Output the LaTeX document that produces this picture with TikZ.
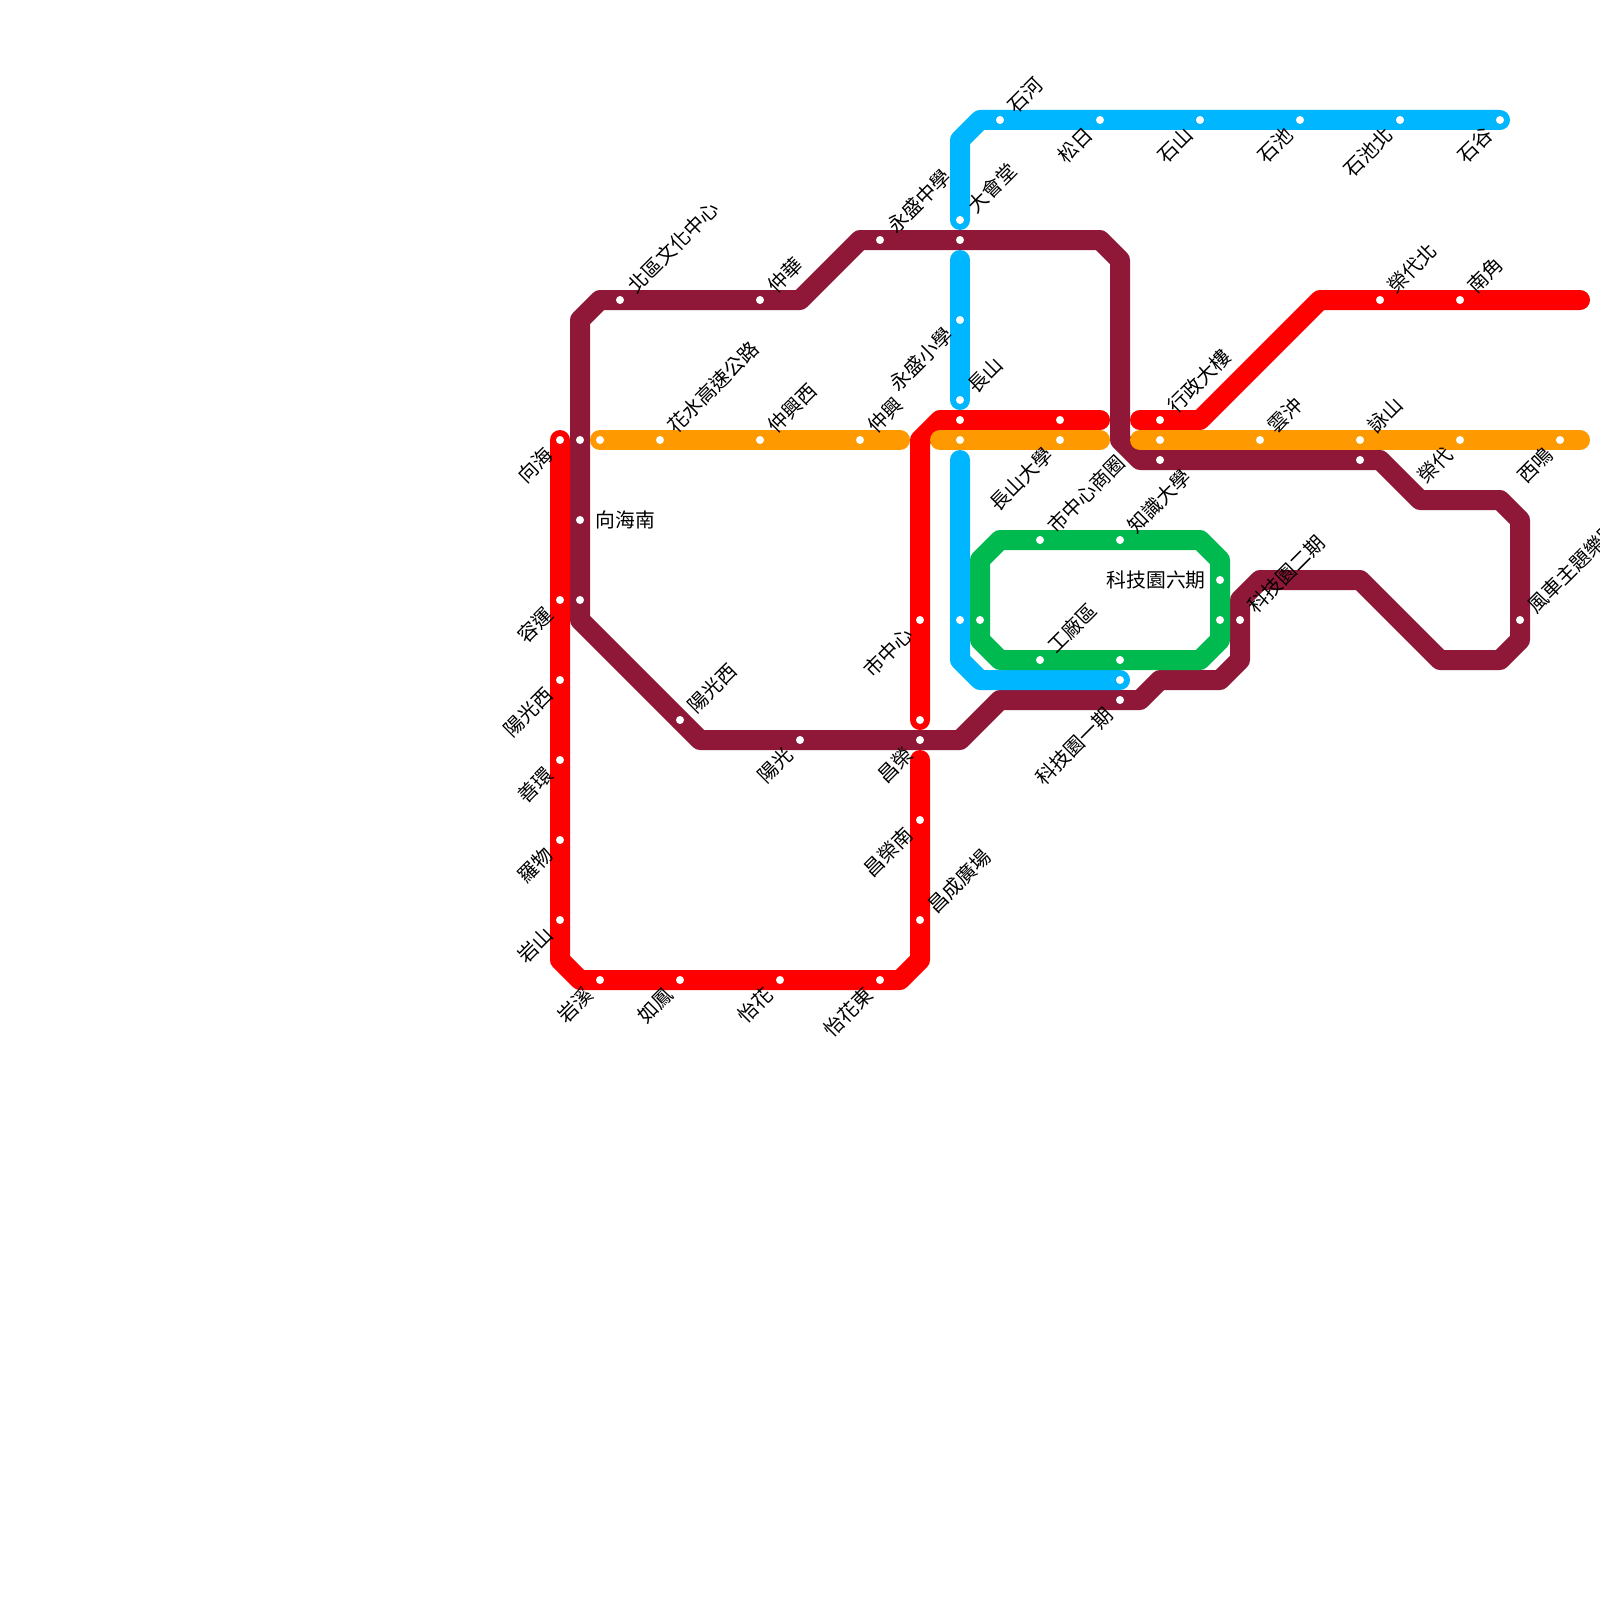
\documentclass[tikz,border=0pt]{standalone}
\usepackage{fontspec}
\setmainfont{Noto Sans CJK TC}
\definecolor{mroon}{HTML}{8F1838}
\definecolor{rline}{HTML}{FF0000}
\definecolor{oline}{HTML}{FF9900}
\definecolor{bline}{HTML}{00B7FF}
\definecolor{gline}{HTML}{00B94F}
\tikzset{
  route/.style={line width=10pt,line join=round,line cap=round},
  stdot/.style={circle,fill=white,draw=none,minimum size=4pt,inner sep=0pt},
  lbl/.style={font=\fontsize{9.9pt}{10pt}\selectfont,text=black,inner sep=0pt},
  ur/.style={lbl,rotate=45,anchor=west,xshift=7.5pt},
  dl/.style={lbl,rotate=45,anchor=east,xshift=-7.5pt},
}
\begin{document}
\begin{tikzpicture}[x=0.5pt,y=-0.5pt]
\useasboundingbox (0,0) rectangle (1600,1600);
\fill[white] (0,0) rectangle (1600,1600);
% stations
\foreach \n/\x/\y in {
 xianghai/560/440,rongyun/560/600,yangguangxiw/560/680,shanhuan/560/760,luowu/560/840,yanshan/560/920,
 yanxi/600/980,rufeng/680/980,yihua/780/980,yihuadong/880/980,changcheng/920/920,rongnan/920/820,rA/920/760,
 shizhongxin/920/620,rB/920/720,rC/960/420,rD/1060/420,xingzheng/1160/420,rongdaibei/1380/300,nanjiao/1460/300,
 oA/600/440,huashui/660/440,zhongxingxi/760/440,zhongxing/860/440,oB/960/440,changshanU/1060/440,oC/1160/440,
 yunchong/1260/440,yongshan/1360/440,rongdai/1460/440,ximing/1560/440,
 shihe/1000/120,songri/1100/120,shishan/1200/120,shichi/1300/120,shichibei/1400/120,shigu/1500/120,dahui/960/220,
 yongxiao/960/320,changshan/960/400,bA/960/620,bB/1120/680,
 mA/580/440,xhnan/580/520,mB/580/600,yangxi/680/720,yangguang/800/740,changrong/920/740,kejiyi/1120/700,
 beiqu/620/300,zhonghua/760/300,yongzhong/880/240,mC/960/240,mD/1160/460,mE/1360/460,kejier/1240/620,fengche/1520/620,
 shangquan/1040/540,zhishi/1120/540,kejiliu/1220/580,gA/1220/620,gB/1120/660,gongchang/1040/660,gC/980/620}
 {\coordinate (\n) at (\x,\y);}
% free ends and bends
\foreach \n/\x/\y in {
 a1/560/960,a2/580/980,a3/900/980,a4/920/960,
 b1/920/440,b2/940/420,b3/1100/420,b4/1140/420,b5/1200/420,b6/1320/300,b7/1580/300,
 c1/900/440,c2/940/440,c3/1100/440,c4/1140/440,c5/1580/440,
 d1/980/120,d2/960/140,d3/960/260,d4/960/460,d5/960/660,d6/980/680,
 e1/580/320,e2/600/300,e3/800/300,e4/860/240,e5/1100/240,e6/1120/260,e7/1120/440,e8/1140/460,e9/1380/460,
 e10/1420/500,e11/1500/500,e12/1520/520,e13/1520/640,e14/1500/660,e15/1440/660,e16/1360/580,e17/1260/580,
 e18/1240/600,e19/1240/660,e20/1220/680,e21/1160/680,e22/1140/700,e23/1000/700,e24/960/740,e25/700/740,e26/580/620,
 f1/980/560,f2/1000/540,f3/1200/540,f4/1220/560,f5/1220/640,f6/1200/660,f7/1000/660,f8/980/640}
 {\coordinate (\n) at (\x,\y);}
% routes
\draw[route,mroon] (e1)--(e2)--(e3)--(e4)--(e5)--(e6)--(e7)--(e8)--(e9)--(e10)--(e11)--(e12)--(e13)--(e14)--(e15)--(e16)--(e17)--(e18)--(e19)--(e20)--(e21)--(e22)--(e23)--(e24)--(e25)--(e26)--cycle;
\draw[route,rline] (xianghai)--(a1)--(a2)--(a3)--(a4)--(rA);
\draw[route,rline] (rB)--(b1)--(b2)--(b3);
\draw[route,rline] (b4)--(b5)--(b6)--(b7);
\draw[route,oline] (oA)--(c1);
\draw[route,oline] (c2)--(c3);
\draw[route,oline] (c4)--(c5);
\draw[route,bline] (shigu)--(d1)--(d2)--(dahui);
\draw[route,bline] (d3)--(changshan);
\draw[route,bline] (d4)--(d5)--(d6)--(bB);
\draw[route,gline] (f1)--(f2)--(f3)--(f4)--(f5)--(f6)--(f7)--(f8)--cycle;
% station dots
\foreach \n in {xianghai,rongyun,yangguangxiw,shanhuan,luowu,yanshan,yanxi,rufeng,yihua,yihuadong,changcheng,rongnan,
 shizhongxin,rB,rC,rD,xingzheng,rongdaibei,nanjiao,oA,huashui,zhongxingxi,zhongxing,oB,changshanU,oC,yunchong,yongshan,rongdai,ximing,
 shihe,songri,shishan,shichi,shichibei,shigu,dahui,yongxiao,changshan,bA,bB,mA,xhnan,mB,yangxi,yangguang,changrong,kejiyi,
 beiqu,zhonghua,yongzhong,mC,mD,mE,kejier,fengche,shangquan,zhishi,kejiliu,gA,gB,gongchang,gC}
 {\node[stdot] (dot-\n) at (\n) {};}
% labels
\node[dl] (l1) at (xianghai) {向海};
\node[dl] (l2) at (rongyun) {容運};
\node[dl] (l3) at (yangguangxiw) {陽光西};
\node[dl] (l4) at (shanhuan) {善環};
\node[dl] (l5) at (luowu) {羅物};
\node[dl] (l6) at (yanshan) {岩山};
\node[dl] (l7) at (yanxi) {岩溪};
\node[dl] (l8) at (rufeng) {如鳳};
\node[dl] (l9) at (yihua) {怡花};
\node[dl] (l10) at (yihuadong) {怡花東};
\node[ur] (l11) at (changcheng) {昌成廣場};
\node[dl] (l12) at (rongnan) {昌榮南};
\node[dl] (l13) at (changrong) {昌榮};
\node[dl] (l14) at (shizhongxin) {市中心};
\node[ur] (l15) at (changshan) {長山};
\node[dl] (l16) at (changshanU) {長山大學};
\node[ur] (l17) at (shangquan) {市中心商圈};
\node[ur] (l18) at (zhishi) {知識大學};
\node[lbl,anchor=east] (l19) at ([xshift=-7pt]kejiliu) {科技園六期};
\node[ur] (l20) at (gongchang) {工廠區};
\node[dl] (l21) at (kejiyi) {科技園一期};
\node[ur] (l22) at (kejier) {科技園二期};
\node[ur] (l23) at (xingzheng) {行政大樓};
\node[ur] (l24) at (yunchong) {雲沖};
\node[ur] (l25) at (yongshan) {詠山};
\node[ur] (l26) at (rongdaibei) {榮代北};
\node[ur] (l27) at (nanjiao) {南角};
\node[dl] (l28) at (rongdai) {榮代};
\node[dl] (l29) at (ximing) {西鳴};
\node[ur] (l30) at (fengche) {風車主題樂園};
\node[ur] (l31) at (shihe) {石河};
\node[dl] (l32) at (songri) {松日};
\node[dl] (l33) at (shishan) {石山};
\node[dl] (l34) at (shichi) {石池};
\node[dl] (l35) at (shichibei) {石池北};
\node[dl] (l36) at (shigu) {石谷};
\node[ur] (l37) at (dahui) {大會堂};
\node[ur] (l38) at (yongzhong) {永盛中學};
\node[dl] (l39) at (yongxiao) {永盛小學};
\node[ur] (l40) at (zhongxing) {仲興};
\node[ur] (l41) at (zhongxingxi) {仲興西};
\node[ur] (l42) at (huashui) {花水高速公路};
\node[ur] (l43) at (zhonghua) {仲華};
\node[ur] (l44) at (beiqu) {北區文化中心};
\node[lbl,anchor=west] (l45) at ([xshift=7.5pt]xhnan) {向海南};
\node[ur] (l46) at (yangxi) {陽光西};
\node[dl] (l47) at (yangguang) {陽光};
\end{tikzpicture}
\end{document}
